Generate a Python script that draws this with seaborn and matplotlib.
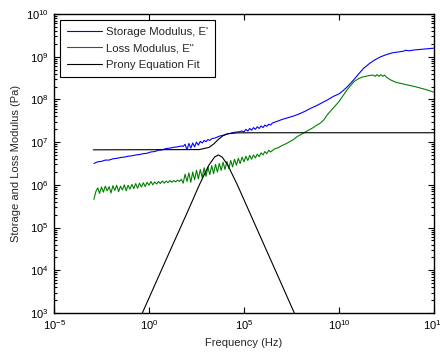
import numpy as np
import pandas as pd
import matplotlib
matplotlib.use("Agg")
import matplotlib.pyplot as plt
import seaborn as sns
from matplotlib.ticker import FixedLocator, NullLocator
from matplotlib.lines import Line2D

# ---------------- data (log10 values) ----------------
storage_logf = [-2.9, -2.7, -2.5, -2.3, -2.1, -1.9, -1.7, -1.5, -1.3, -1.1,
                -0.9, -0.7, -0.5, -0.3, -0.1, 0.1, 0.3, 0.5, 0.7, 0.9,
                1.1, 1.3, 1.5, 1.7, 1.8, 1.9, 2.0, 2.1, 2.2, 2.3,
                2.4, 2.5, 2.6, 2.7, 2.8, 2.9, 3.0, 3.1, 3.2, 3.3,
                3.5, 3.7, 3.9, 4.1, 4.3, 4.5, 4.7, 4.9, 5.0, 5.1,
                5.2, 5.3, 5.4, 5.5, 5.6, 5.7, 5.8, 5.9, 6.0, 6.1,
                6.2, 6.3, 6.4, 6.5, 6.7, 7.0, 7.3, 7.6, 7.9, 8.2,
                8.5, 8.8, 9.1, 9.4, 9.7, 10.0, 10.2, 10.4, 10.7, 11.0,
                11.3, 11.6, 11.9, 12.2, 12.5, 12.8, 13.1, 13.4, 13.5, 13.7,
                14.0, 14.5, 15.0]
storage_logE = [6.50, 6.54, 6.55, 6.58, 6.58, 6.61, 6.62, 6.64, 6.65, 6.67,
                6.68, 6.70, 6.71, 6.73, 6.74, 6.77, 6.78, 6.81, 6.82, 6.85,
                6.86, 6.88, 6.89, 6.91, 6.90, 6.95, 6.82, 6.97, 6.86, 6.98,
                6.89, 7.00, 6.93, 7.02, 6.98, 7.04, 7.01, 7.06, 7.04, 7.08,
                7.10, 7.14, 7.16, 7.19, 7.21, 7.23, 7.24, 7.26, 7.24, 7.30,
                7.26, 7.32, 7.28, 7.34, 7.30, 7.36, 7.32, 7.38, 7.34, 7.40,
                7.37, 7.42, 7.40, 7.45, 7.48, 7.53, 7.57, 7.61, 7.66, 7.72,
                7.79, 7.85, 7.92, 7.99, 8.07, 8.13, 8.20, 8.28, 8.42, 8.58,
                8.73, 8.84, 8.93, 9.00, 9.05, 9.09, 9.11, 9.13, 9.15, 9.14,
                9.16, 9.18, 9.20]

loss_logf = [-2.9, -2.8, -2.7, -2.6, -2.5, -2.4, -2.3, -2.2, -2.1, -2.0,
             -1.9, -1.8, -1.7, -1.6, -1.5, -1.4, -1.3, -1.2, -1.1, -1.0,
             -0.9, -0.8, -0.7, -0.6, -0.5, -0.4, -0.3, -0.2, -0.1, 0.0,
             0.1, 0.2, 0.3, 0.4, 0.5, 0.6, 0.7, 0.8, 0.9, 1.0,
             1.1, 1.2, 1.3, 1.4, 1.5, 1.6, 1.7, 1.8, 1.9, 2.0,
             2.1, 2.2, 2.3, 2.4, 2.5, 2.6, 2.7, 2.8, 2.9, 3.0,
             3.1, 3.2, 3.3, 3.4, 3.5, 3.6, 3.7, 3.8, 3.9, 4.0,
             4.1, 4.2, 4.3, 4.4, 4.5, 4.6, 4.7, 4.8, 4.9, 5.0,
             5.1, 5.2, 5.3, 5.4, 5.5, 5.6, 5.7, 5.8, 5.9, 6.0,
             6.1, 6.2, 6.3, 6.4, 6.6, 6.8, 7.0, 7.2, 7.4, 7.6,
             7.8, 8.0, 8.2, 8.4, 8.6, 8.8, 9.0, 9.2, 9.4, 9.5,
             9.7, 10.0, 10.2, 10.4, 10.6, 10.8, 11.0, 11.2, 11.4, 11.6,
             11.8, 11.9, 12.0, 12.1, 12.2, 12.3, 12.4, 12.5, 12.7, 13.0,
             13.5, 14.0, 14.5, 15.0]
loss_logE = [5.66, 5.84, 5.93, 5.80, 5.95, 5.83, 5.97, 5.86, 5.96, 5.81,
             5.98, 5.87, 5.99, 5.84, 5.97, 5.88, 6.00, 5.86, 5.99, 5.90,
             6.01, 5.91, 6.03, 5.92, 6.04, 5.95, 6.05, 5.96, 6.06, 5.99,
             6.08, 6.00, 6.07, 6.02, 6.08, 6.03, 6.09, 6.04, 6.09, 6.05,
             6.10, 6.06, 6.10, 6.07, 6.11, 6.08, 6.13, 6.04, 6.25, 6.08,
             6.28, 6.06, 6.30, 6.12, 6.34, 6.14, 6.36, 6.17, 6.40, 6.20,
             6.42, 6.24, 6.45, 6.26, 6.48, 6.30, 6.50, 6.34, 6.53, 6.36,
             6.55, 6.38, 6.57, 6.42, 6.60, 6.46, 6.62, 6.50, 6.65, 6.54,
             6.67, 6.57, 6.69, 6.60, 6.70, 6.63, 6.72, 6.66, 6.75, 6.70,
             6.78, 6.73, 6.81, 6.77, 6.84, 6.87, 6.92, 6.96, 7.01, 7.06,
             7.13, 7.18, 7.23, 7.28, 7.33, 7.39, 7.44, 7.52, 7.65, 7.70,
             7.80, 7.95, 8.08, 8.21, 8.32, 8.42, 8.48, 8.52, 8.54, 8.56,
             8.57, 8.54, 8.58, 8.54, 8.58, 8.54, 8.57, 8.52, 8.46, 8.40,
             8.35, 8.30, 8.24, 8.17]

prony_storage_logf = [-2.93, 2.65, 3.15, 3.40, 3.65, 3.90, 4.15, 4.65, 5.65, 15.0]
prony_storage_logE = [6.82, 6.826, 6.876, 6.954, 7.064, 7.152, 7.196, 7.217, 7.22, 7.22]

prony_loss_logf = [-1.0, 1.0, 2.0, 2.65, 3.15, 3.45, 3.65, 3.85, 4.15, 4.65, 5.65, 8.3]
prony_loss_logE = [2.35, 4.35, 5.34, 6.00, 6.46, 6.65, 6.70, 6.65, 6.46, 6.00, 5.00, 2.35]

series_labels = ["Storage Modulus, E'", 'Loss Modulus, E"', "Prony Equation Fit"]
series_colors = ["#0000ff", "#008000", "#000000"]

x_ticks = [1e-5, 1e0, 1e5, 1e10, 1e15]
y_ticks = [1e3, 1e4, 1e5, 1e6, 1e7, 1e8, 1e9, 1e10]
y_minor = [m * 10.0 ** e for e in range(3, 10) for m in range(2, 10)]

# ---------------- build tables ----------------
def table(lf, le):
    return pd.DataFrame({"freq": 10.0 ** np.asarray(lf), "mod": 10.0 ** np.asarray(le)})

df_storage = table(storage_logf, storage_logE)
df_loss = table(loss_logf, loss_logE)
df_ps = table(prony_storage_logf, prony_storage_logE)
df_pl = table(prony_loss_logf, prony_loss_logE)

# ---------------- figure ----------------
sns.set_style("ticks")
plt.rcParams["font.family"] = ["Liberation Sans", "DejaVu Sans"]
plt.rcParams["font.size"] = 8

fig = plt.figure(figsize=(4.40, 3.54), dpi=100)
ax = fig.add_axes([54 / 440, 1 - 313 / 354, 380 / 440, 299 / 354])
ax.set_xscale("log")
ax.set_yscale("log")

lw = 0.8
for d, c in [(df_storage, series_colors[0]), (df_loss, series_colors[1]),
             (df_ps, series_colors[2]), (df_pl, series_colors[2])]:
    sns.lineplot(data=d, x="freq", y="mod", color=c, lw=lw,
                 sort=False, estimator=None, ax=ax)

ax.set_xlim(1e-5, 1e15)
ax.set_ylim(1e3, 1e10)
ax.set_xticks(x_ticks)
ax.xaxis.set_minor_locator(NullLocator())
ax.yaxis.set_major_locator(FixedLocator(y_ticks))
ax.yaxis.set_minor_locator(FixedLocator(y_minor))

for s in ax.spines.values():
    s.set_visible(True)
    s.set_linewidth(1.0)
    s.set_color("black")
ax.tick_params(which="both", direction="in", top=True, right=True,
               colors="black", labelsize=8, width=0.8)
ax.tick_params(which="major", length=4, pad=4)
ax.tick_params(which="minor", length=2)

ax.set_xlabel("Frequency (Hz)", fontsize=8, labelpad=4)
ax.set_ylabel("Storage and Loss Modulus (Pa)", fontsize=8, labelpad=3)

handles = [Line2D([], [], color=c, lw=lw) for c in series_colors]
leg = ax.legend(handles, series_labels, loc="upper left", fontsize=8.2,
                frameon=True, fancybox=False, framealpha=1, edgecolor="black",
                handlelength=3.1, handletextpad=0.4, labelspacing=0.6,
                borderaxespad=0.5, borderpad=0.6)
leg.get_frame().set_linewidth(0.8)

fig.savefig("out.png", dpi=100)
